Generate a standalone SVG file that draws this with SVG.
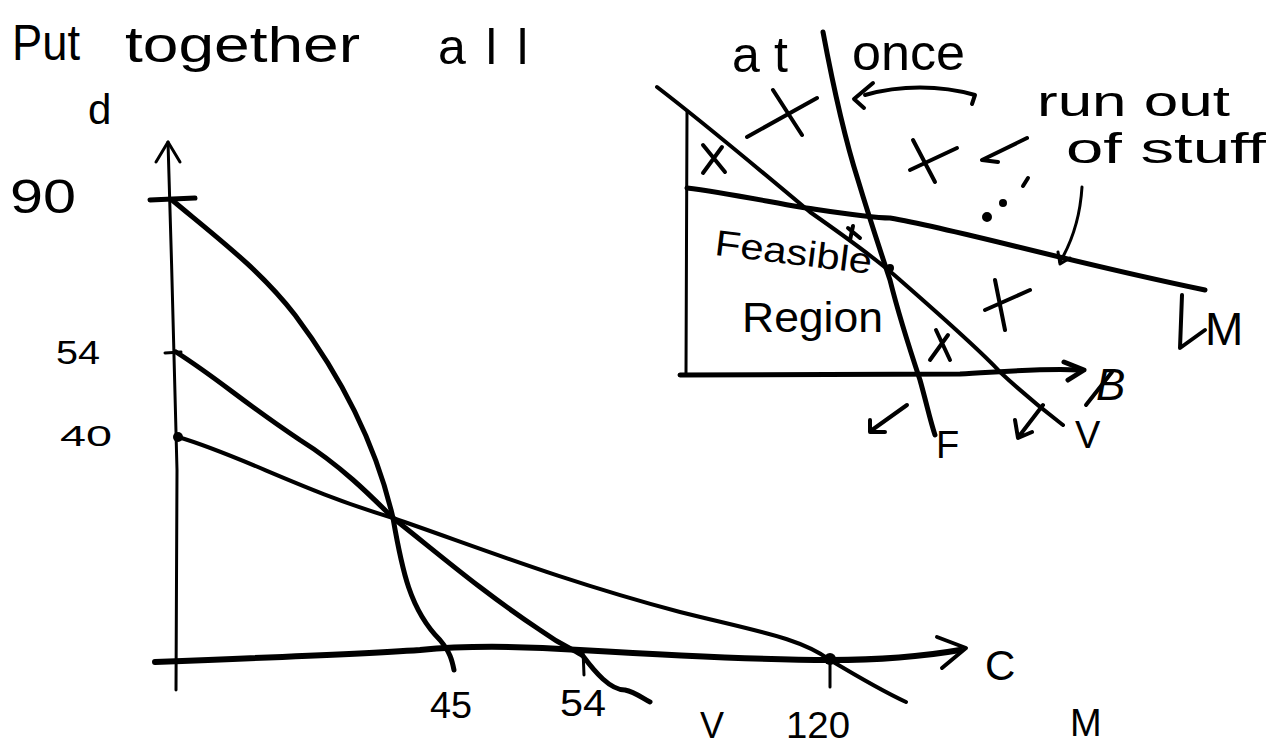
<svg xmlns="http://www.w3.org/2000/svg" width="1288" height="747" viewBox="0 0 1288 747">
<style>
.ink{fill:none;stroke:#000;stroke-linecap:round;stroke-linejoin:round}
.t{font-family:"Liberation Sans","DejaVu Sans",sans-serif;fill:#000}
</style>
<rect width="1288" height="747" fill="#fff"/>
<g id="title" class="t" font-size="50">
<text x="12" y="60" textLength="68" lengthAdjust="spacingAndGlyphs">Put</text>
<text x="125" y="62" textLength="235" lengthAdjust="spacingAndGlyphs">together</text>
<text x="438" y="64" textLength="90" lengthAdjust="spacing">all</text>
<text x="732" y="72" textLength="56" lengthAdjust="spacing">at</text>
<text x="852" y="70" textLength="113" lengthAdjust="spacingAndGlyphs">once</text>
</g>
<g id="main-axes">
<path class="ink" stroke-width="3" d="M168 142 C171 250 176 400 177 470 C176 560 176 630 176 690"/>
<path class="ink" stroke-width="3" d="M156 162 L168 142 L180 162"/>
<path class="ink" stroke-width="5" d="M150 200 L195 198"/>
<path class="ink" stroke-width="3" d="M165 353 L181 352"/>
<circle cx="178" cy="437" r="5"/>
<path class="ink" stroke-width="6" d="M155 662 C260 658 360 654 420 650 C470 645 520 646 580 650 C680 656 760 660 830 660 C880 660 920 657 960 650"/>
<path class="ink" stroke-width="4" d="M937 637 L966 648 L942 668"/>
<path class="ink" stroke-width="3" d="M583 650 L584 675 M830 658 L830 687"/>
</g>
<g id="main-labels" class="t" font-size="40">
<text x="88" y="124" font-size="42">d</text>
<text x="10" y="213" font-size="48" textLength="66" lengthAdjust="spacingAndGlyphs">90</text>
<text x="56" y="364" font-size="34" textLength="44" lengthAdjust="spacingAndGlyphs">54</text>
<text x="60" y="446" font-size="30" textLength="52" lengthAdjust="spacingAndGlyphs">40</text>
<text x="430" y="718" font-size="36" textLength="42" lengthAdjust="spacingAndGlyphs">45</text>
<text x="560" y="716" font-size="36" textLength="46" lengthAdjust="spacingAndGlyphs">54</text>
<text x="700" y="738" font-size="36">V</text>
<text x="786" y="738" font-size="36" textLength="64" lengthAdjust="spacingAndGlyphs">120</text>
<text x="1070" y="736" font-size="38">M</text>
<text x="985" y="680" font-size="42">C</text>
</g>
<g id="main-curves">
<path id="curve-F" class="ink" stroke-width="5" d="M172 200 C220 240 260 270 295 315 C340 375 375 440 393 518 C402 570 410 610 440 640 C450 652 452 660 454 670"/>
<path id="curve-V" class="ink" stroke-width="5" d="M176 352 C220 380 240 400 300 440 C340 465 370 495 393 518 C440 555 480 590 540 630 C565 648 575 650 583 656 C595 672 610 690 625 690 C635 692 642 698 650 702"/>
<path id="curve-M" class="ink" stroke-width="4" d="M178 437 C240 455 300 490 393 518 C480 548 560 580 680 612 C760 632 800 638 830 660 C860 678 880 690 906 702"/>
<circle cx="830" cy="659" r="6"/>
</g>
<g id="inset-axes">
<path class="ink" stroke-width="3" d="M687 112 L686 375"/>
<path class="ink" stroke-width="5" d="M680 375 L960 374 C1000 372 1040 368 1080 370"/>
<path class="ink" stroke-width="5" d="M1064 362 L1084 370 L1068 380"/>
<text class="t" x="1096" y="400" font-size="44" font-style="italic">B</text>
<path class="ink" stroke-width="4" d="M1086 405 L1112 372"/>
</g>
<g id="inset-lines">
<path id="inset-V" class="ink" stroke-width="4" d="M657 87 C700 120 760 170 810 212 C850 240 880 262 900 280 C940 315 980 350 1000 372 C1030 400 1050 415 1063 425"/>
<path id="inset-F" class="ink" stroke-width="5" d="M823 32 C832 80 842 130 858 180 C870 220 880 250 890 280 C900 320 910 350 920 380 C927 405 930 420 935 435"/>
<path id="inset-M" class="ink" stroke-width="5" d="M687 188 C720 192 760 200 800 207 C840 213 870 218 890 218 C960 230 1060 260 1205 290"/>
<circle cx="890" cy="268" r="4"/>
</g>
<g id="inset-marks" class="ink" stroke-width="4">
<path d="M747 137 L817 98 M773 90 L802 135"/>
<path d="M703 145 L725 172 M722 147 L703 173"/>
<path d="M913 140 L935 182 M910 170 L957 148"/>
<path d="M995 280 L1005 330 M985 310 L1030 290"/>
<path d="M936 330 L950 360 M948 335 L930 360"/>
<path d="M848 228 L860 238 M853 226 L850 240"/>
</g>
<g id="connectors" class="ink" stroke-width="4">
<path d="M865 95 C900 85 940 85 975 95 L972 104"/>
<path d="M873 83 L854 99 L864 108"/>
<path d="M1027 138 L982 160 L998 162"/>
<path d="M1028 178 L1023 186"/>
<circle cx="1003" cy="203" r="2" fill="#000"/>
<circle cx="987" cy="217" r="3" fill="#000"/>
<path stroke-width="3" d="M1082 187 C1080 220 1070 245 1060 262"/>
<path stroke-width="3" d="M1058 252 L1060 264 L1070 258"/>
<path d="M1182 295 L1180 348 L1205 330"/>
<path d="M907 405 L872 430 M870 420 L870 432 L885 432"/>
<path d="M1043 405 L1020 435 M1015 420 L1018 438 L1032 432"/>
</g>
<g id="inset-labels" class="t">
<text x="1037" y="116" font-size="42" textLength="193" lengthAdjust="spacingAndGlyphs">run out</text>
<text x="1066" y="163" font-size="42" textLength="200" lengthAdjust="spacingAndGlyphs">of stuff</text>
<text x="714" y="264" font-size="36" textLength="158" lengthAdjust="spacingAndGlyphs" transform="rotate(7 790 258)">Feasible</text>
<text x="742" y="332" font-size="42" textLength="141" lengthAdjust="spacingAndGlyphs">Region</text>
<text x="936" y="458" font-size="38">F</text>
<text x="1075" y="448" font-size="38">V</text>
<text x="1205" y="345" font-size="46">M</text>
</g>
</svg>
